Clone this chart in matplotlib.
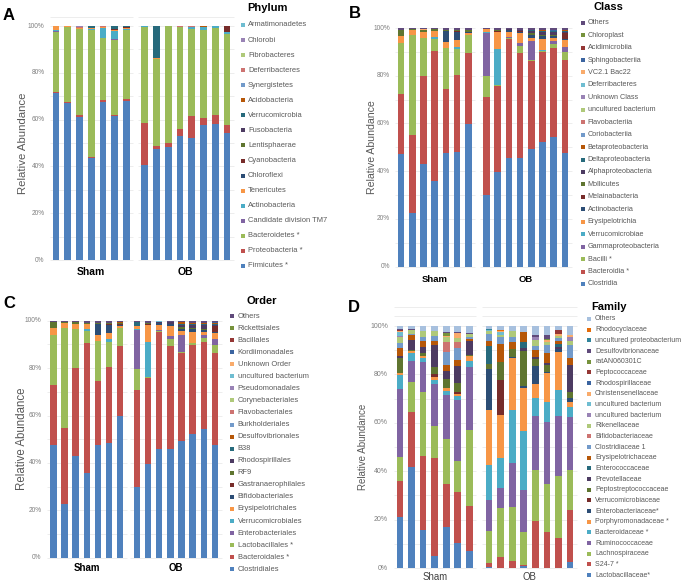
import numpy as np
import matplotlib
matplotlib.use('Agg')
import matplotlib.pyplot as plt
from matplotlib.patches import Rectangle

plt.rcParams['font.family'] = ['Liberation Sans', 'DejaVu Sans']

W, H = 685, 584

# Excel-like series palette, in stacking order (bottom -> top)
colors = ['#4F81BD', '#C0504D', '#9BBB59', '#8064A2', '#4BACC6', '#F79646',
          '#2C4D75', '#772C2A', '#5F7530', '#4D3B62', '#276A7C', '#B65708',
          '#729ACA', '#CD7371', '#AFC97A', '#9983B5', '#6FBDD1', '#F9AB6B',
          '#3B64A0', '#953735', '#76923C', '#604A7B', '#31859C', '#E46C0A',
          '#A7C0DE']

groups = ['Sham', 'OB']

# columns: Sham 1-7, OB 1-8 (percent)
phylum_names = ['Firmicutes *', 'Proteobacteria *', 'Bacteroidetes *', 'Candidate division TM7',
                'Actinobacteria', 'Tenericutes', 'Chloroflexi', 'Cyanobacteria', 'Lentisphaerae',
                'Fusobacteria', 'Verrucomicrobia', 'Acidobacteria', 'Synergistetes',
                'Deferribacteres', 'Fibrobacteres', 'Chlorobi', 'Armatimonadetes']
phylum_vals = [
    [71.5, 67.0, 61.5, 43.3, 67.5, 61.5, 68.0, 40.5, 47.5, 48.5, 52.8, 52.3, 57.5, 58.0, 54.3],
    [0.5, 0.5, 0.5, 0.5, 0.6, 0.6, 0.6, 18.3, 1.2, 1.5, 3.2, 9.4, 3.0, 4.0, 3.3],
    [25.5, 32.0, 37.0, 54.4, 26.6, 32.2, 29.6, 41.0, 37.0, 50.0, 43.6, 37.3, 38.0, 37.3, 38.9],
    [0.4, 0, 0, 0, 0, 0.3, 0.3, 0, 0, 0, 0, 0, 0, 0, 0],
    [0.2, 0, 0, 0.4, 4.5, 3.3, 0.3, 0.3, 0, 0, 0, 0.5, 1.0, 0.5, 1.0],
    [1.9, 0.5, 0.3, 0.3, 0.3, 0.3, 0.2, 0, 0.4, 0, 0, 0, 0, 0, 0],
    [0, 0, 0, 0, 0, 0, 0.2, 0, 0, 0, 0, 0, 0, 0, 0],
    [0, 0, 0, 0, 0, 0.5, 0.4, 0, 0, 0, 0, 0, 0.2, 0, 2.5],
    [0, 0, 0, 0, 0, 0, 0, 0, 0, 0, 0, 0, 0, 0, 0],
    [0, 0, 0, 0, 0, 0, 0, 0, 0, 0, 0, 0, 0, 0, 0],
    [0, 0, 0, 0.8, 0, 1.4, 0.2, 0, 13.8, 0, 0, 0, 0, 0, 0],
    [0, 0, 0, 0, 0, 0, 0.2, 0, 0, 0, 0, 0.3, 0.3, 0, 0],
    [0, 0, 0, 0, 0, 0, 0, 0, 0, 0, 0, 0, 0, 0.2, 0],
    [0, 0, 0.5, 0, 0.4, 0, 0, 0, 0, 0, 0.4, 0.3, 0, 0, 0],
    [0, 0, 0, 0, 0, 0, 0, 0, 0, 0, 0, 0, 0, 0, 0],
    [0, 0, 0.5, 0, 0, 0, 0, 0, 0, 0, 0, 0, 0, 0, 0],
    [0, 0, 0, 0, 0, 0, 0, 0, 0, 0, 0, 0, 0, 0, 0],
]

class_names = ['Clostridia', 'Bacteroidia *', 'Bacilli *', 'Gammaproteobacteria', 'Verrucomicrobiae',
               'Erysipelotrichia', 'Actinobacteria', 'Melainabacteria', 'Mollicutes',
               'Alphaproteobacteria', 'Deltaproteobacteria', 'Betaproteobacteria', 'Coriobacteriia',
               'Flavobacteriia', 'uncultured bacterium', 'Unknown Class', 'Deferribacteres',
               'VC2.1 Bac22', 'Sphingobacteriia', 'Acidimicrobiia', 'Chloroplast', 'Others']
class_vals = [
    [47.1, 22.5, 43.3, 36.0, 47.8, 48.2, 59.8, 30.0, 39.5, 45.8, 45.7, 49.3, 52.3, 54.5, 47.8],
    [25.2, 32.5, 36.7, 54.3, 26.5, 32.1, 29.8, 41.3, 36.3, 49.7, 43.8, 36.9, 37.5, 37.2, 38.9],
    [21.3, 42.0, 16.3, 5.2, 17.2, 10.7, 7.4, 8.7, 0.4, 0.4, 2.9, 0.5, 0.5, 1.6, 3.3],
    [0, 0, 0, 0, 0, 0, 0, 18.0, 0, 0.4, 1.2, 7.8, 0, 1.3, 2.3],
    [0, 0, 0, 0.8, 0, 1.2, 0, 0.4, 14.8, 0, 0, 0, 0.3, 0, 0],
    [3.0, 2.0, 2.5, 2.5, 2.5, 2.8, 0.8, 1.2, 7.2, 2.2, 4.2, 1.5, 4.6, 1.2, 2.7],
    [0, 0, 0, 0, 4.8, 3.5, 0.5, 0, 0, 0.8, 0.6, 1.2, 1.3, 1.0, 0.6],
    [0, 0, 0, 0, 0, 0.4, 0.3, 0, 0.4, 0, 0.3, 0, 0, 0, 2.4],
    [2.5, 0.5, 0.6, 0.6, 0.4, 0.3, 0.5, 0, 0.6, 0, 0, 0.5, 0.5, 0.4, 0],
    [0, 0, 0, 0, 0, 0, 0, 0, 0, 0.4, 0.6, 1.0, 1.2, 1.5, 0.5],
    [0, 0, 0, 0, 0, 0, 0.3, 0, 0, 0, 0, 0.6, 0.6, 0.4, 0.4],
    [0, 0, 0, 0, 0, 0, 0, 0, 0, 0, 0, 0, 0.3, 0, 0.3],
    [0, 0, 0, 0, 0, 0, 0, 0, 0, 0, 0, 0, 0, 0, 0],
    [0, 0, 0, 0, 0, 0, 0, 0, 0, 0, 0, 0, 0, 0, 0],
    [0, 0, 0, 0, 0, 0, 0, 0, 0, 0, 0, 0, 0, 0, 0],
    [0, 0, 0, 0, 0, 0, 0, 0, 0, 0, 0, 0, 0, 0, 0],
    [0, 0, 0, 0, 0, 0, 0, 0, 0, 0.2, 0, 0, 0, 0, 0],
    [0, 0, 0.3, 0, 0, 0, 0, 0, 0, 0, 0, 0, 0, 0, 0],
    [0, 0, 0, 0, 0, 0, 0, 0, 0, 0, 0, 0, 0, 0.3, 0.3],
    [0, 0, 0, 0, 0, 0, 0, 0, 0, 0, 0, 0, 0, 0, 0],
    [0, 0, 0, 0, 0, 0, 0, 0, 0, 0, 0, 0, 0, 0, 0],
    [0.8, 0.5, 0.6, 0.6, 0.8, 0.8, 0.7, 0.4, 0.8, 0.3, 0.7, 0.7, 0.8, 0.8, 0.7],
]

order_names = ['Clostridiales', 'Bacteroidales *', 'Lactobacillales *', 'Enterobacteriales',
               'Verrucomicrobiales', 'Erysipelotrichales', 'Bifidobacteriales',
               'Gastranaerophilales', 'RF9', 'Rhodospirillales', 'B38', 'Desulfovibrionales',
               'Burkholderiales', 'Flavobacteriales', 'Corynebacteriales', 'Pseudomonadales',
               'uncultured bacterium', 'Unknown Order', 'Kordiimonadales', 'Bacillales',
               'Rickettsiales', 'Others']
order_vals = [
    [47.3, 22.5, 43.0, 35.9, 47.5, 48.2, 59.7, 30.0, 39.5, 45.8, 45.7, 49.3, 52.3, 54.5, 47.8],
    [25.1, 32.1, 37.2, 54.5, 26.8, 32.2, 29.8, 41.3, 36.3, 49.7, 43.8, 36.9, 37.5, 37.2, 38.9],
    [21.3, 42.2, 16.1, 5.2, 16.8, 10.8, 7.3, 8.7, 0.4, 0.4, 2.9, 0.5, 0.5, 1.6, 3.3],
    [0, 0, 0, 0, 0, 0, 0, 16.5, 0, 0.4, 1.2, 7.0, 0, 1.3, 2.3],
    [0, 0, 0, 0.8, 0, 1.0, 0, 0.4, 14.8, 0, 0, 0, 0.3, 0, 0],
    [2.8, 2.2, 2.4, 2.2, 2.7, 2.6, 0.8, 1.5, 7.2, 2.2, 4.2, 1.5, 4.6, 1.2, 2.7],
    [0, 0, 0, 0, 4.4, 3.4, 0.5, 0, 0, 0.8, 0.6, 1.2, 1.3, 1.0, 0.6],
    [0, 0, 0, 0, 0, 0.4, 0.3, 0, 0.4, 0, 0.3, 0, 0, 0, 2.4],
    [2.4, 0.5, 0.6, 0.6, 0.4, 0.3, 0.5, 0, 0.6, 0, 0, 0.5, 0.5, 0.4, 0],
    [0, 0, 0, 0, 0, 0, 0, 0, 0, 0.4, 0.6, 1.0, 1.2, 1.5, 0.5],
    [0, 0, 0, 0, 0, 0, 0.2, 1.5, 0, 0, 0, 0.6, 0.4, 0.3, 0.4],
    [0, 0, 0.2, 0, 0.2, 0.3, 0.2, 0, 0, 0, 0, 0.5, 0.5, 0.5, 0.3],
    [0, 0, 0, 0, 0, 0, 0, 0, 0, 0, 0, 0, 0, 0, 0],
    [0, 0, 0, 0, 0, 0, 0, 0, 0, 0, 0, 0, 0, 0, 0],
    [0, 0, 0, 0, 0, 0, 0, 0, 0, 0, 0, 0, 0, 0, 0],
    [0, 0, 0, 0, 0, 0, 0, 0, 0, 0, 0, 0, 0, 0, 0],
    [0, 0, 0, 0, 0, 0, 0, 0, 0, 0.2, 0, 0, 0, 0, 0],
    [0, 0, 0, 0, 0, 0, 0, 0, 0, 0, 0, 0, 0, 0, 0],
    [0, 0, 0, 0, 0, 0, 0, 0, 0, 0, 0, 0, 0, 0.3, 0.3],
    [0, 0, 0, 0, 0, 0, 0, 0, 0, 0, 0, 0, 0, 0, 0],
    [0, 0, 0, 0, 0, 0, 0, 0, 0, 0, 0, 0, 0, 0, 0],
    [0.7, 0.5, 0.5, 0.8, 0.8, 0.8, 0.7, 0.6, 0.8, 0.3, 0.7, 0.7, 0.8, 0.8, 0.7],
]

family_names = ['Lactobacillaceae*', 'S24-7 *', 'Lachnospiraceae', 'Ruminococcaceae',
                'Bacteroidaceae *', 'Porphyromonadaceae *', 'Enterobacteriaceae*',
                'Verrucomicrobiaceae', 'Peptostreptococcaceae', 'Prevotellaceae',
                'Enterococcaceae', 'Erysipelotrichaceae', 'Clostridiaceae 1', 'Bifidobacteriaceae',
                'Rikenellaceae', 'uncultured bacterium', 'uncultured bacterium',
                'Christensenellaceae', 'Rhodospirillaceae', 'Peptococcaceae', 'ratAN060301C',
                'Desulfovibrionaceae', 'uncultured proteobacterium', 'Rhodocyclaceae', 'Others']
family_vals = [
    [21.0, 41.8, 15.7, 4.9, 16.8, 10.2, 6.9, 0.3, 0.2, 0, 0.8, 0, 0, 0, 2.6],
    [15.0, 22.8, 30.5, 40.7, 18.1, 20.9, 18.9, 1.6, 4.5, 2.8, 0.3, 19.4, 15.0, 12.2, 21.4],
    [10.0, 12.4, 26.5, 12.9, 18.2, 12.9, 31.2, 13.5, 19.9, 22.4, 13.9, 21.0, 19.6, 25.7, 16.4],
    [28.0, 8.7, 12.4, 17.7, 18.5, 24.9, 26.0, 12.6, 8.3, 18.0, 17.2, 22.5, 25.6, 25.1, 22.2],
    [6.0, 3.0, 1.6, 1.4, 1.4, 1.7, 2.4, 14.5, 12.7, 22.0, 24.4, 7.3, 8.3, 10.6, 4.1],
    [0.8, 1.0, 0.8, 1.4, 1.2, 0.7, 2.0, 23.1, 17.5, 21.4, 17.7, 5.9, 12.0, 15.8, 1.8],
    [0, 0, 0, 0, 0, 0, 0, 16.7, 0, 0.6, 1.1, 7.4, 0.5, 1.2, 1.7],
    [0, 0, 0, 1.2, 0, 0.9, 0, 0, 14.4, 0, 0, 0, 0, 0, 0],
    [6.2, 0.5, 1.3, 2.8, 3.7, 3.6, 0.7, 2.1, 7.6, 3.1, 14.1, 2.7, 2.9, 0, 2.7],
    [0.8, 4.0, 2.5, 9.0, 3.7, 6.8, 5.5, 0, 0, 0, 1.5, 1.1, 1.0, 0.8, 11.0],
    [0, 0, 0, 0, 0, 0, 0, 7.6, 0, 0, 2.5, 0, 0, 1.0, 0],
    [3.4, 2.0, 2.7, 2.0, 2.4, 2.4, 1.0, 2.0, 7.6, 3.1, 4.0, 2.8, 3.8, 1.4, 2.8],
    [1.8, 0.5, 1.4, 1.8, 5.2, 4.9, 0.8, 2.8, 2.7, 1.8, 0, 1.4, 3.5, 1.3, 5.5],
    [0, 0, 0, 0, 4.1, 2.7, 0, 0, 0, 0, 0, 0, 0, 0, 0],
    [2.5, 1.8, 2.7, 2.2, 2.1, 1.5, 1.1, 1.2, 0.8, 2.7, 0, 2.7, 1.3, 0.8, 1.4],
    [0.4, 0, 0, 0, 0, 0, 0, 0, 0, 0, 0, 1.0, 0, 0, 2.0],
    [2.0, 0, 0, 0, 0, 0, 0, 0.4, 1.3, 0, 0, 0, 0, 0, 0],
    [0.3, 0, 0, 0, 0.5, 2.0, 0, 0, 0.5, 0, 0, 0, 0.8, 0.8, 0.6],
    [0, 0, 0, 0, 0, 0, 0, 0, 0, 0, 0, 0, 0, 0, 0],
    [0.3, 0, 0, 0, 0, 0, 0, 0, 0, 0, 0, 0, 0, 1.5, 0],
    [0, 0, 0, 0, 1.2, 0, 0, 0, 0, 0, 0, 0, 0.5, 0, 0],
    [0.4, 0.4, 0, 0, 0.5, 0.6, 0.5, 0, 0, 0, 0, 0.8, 1.5, 0, 0],
    [0, 0, 0, 0, 0, 0, 0, 0.5, 0, 0, 0, 0, 0, 0, 0],
    [0, 0, 0, 0, 0, 0, 0, 0, 0.5, 0, 0, 0, 0, 0, 0],
    [1.3, 1.1, 1.9, 2.0, 2.4, 2.4, 3.0, 1.3, 1.5, 2.0, 2.5, 3.9, 3.7, 1.8, 3.8],
]

fig = plt.figure(figsize=(W / 100, H / 100), dpi=100)


def fx(px):
    return px / W


def fy(py):
    return 1 - py / H


def panel(names, vals, letter, title, g):
    vals = np.array(vals, dtype=float)
    pct = vals / vals.sum(axis=0) * 100  # 100% stacked
    xs = np.array(list(range(7)) + [6 + g['gap'] + i for i in range(8)])
    last = xs[-1]
    ppu = (g['cx1'] - g['cx0']) / last
    left = g['cx0'] - 0.8 * ppu
    width = (last + 1.6) * ppu
    ax = fig.add_axes([fx(left), fy(g['y0']), width / W, (g['y0'] - g['y100']) / H])
    ax.set_xlim(-0.8, last + 0.8)
    ax.set_ylim(0, 100)
    ax.axis('off')

    for lv in list(range(0, 101, 10)) + g['extra']:
        ax.hlines(lv, -0.55, 6.6, color='#EAEAEA', lw=0.6, zorder=0, clip_on=False)
        ax.hlines(lv, 6 + g['gap'] - 0.6, last + 0.6, color='#EAEAEA', lw=0.6, zorder=0,
                  clip_on=False)

    bottom = np.zeros(len(xs))
    for i in range(len(names)):
        ax.bar(xs, pct[i], bottom=bottom, width=0.58, color=colors[i], lw=0, zorder=2)
        bottom += pct[i]

    # y tick labels and axis title
    for v in range(0, 101, 20):
        fig.text(fx(g['tick_x']), fy(g['y0'] - v / 100 * (g['y0'] - g['y100'])), f'{v}%',
                 ha='right', va='center', fontsize=g['tick_fs'], color='#7F7F7F')
    fig.text(fx(g['ylab_x']), fy((g['y0'] + g['y100']) / 2), 'Relative Abundance',
             rotation=90, ha='center', va='center', fontsize=g['ylab_fs'], color='#595959')

    # group labels
    gy = fy(g['grp_y'])
    for lab, sel in zip(groups, [xs[:7], xs[7:]]):
        xc = left + (sel.mean() + 0.8) * ppu
        fig.text(fx(xc), gy, lab, ha='center', va='center', fontsize=g['grp_fs'],
                 fontweight=g['grp_w'], color=g['grp_c'])

    fig.text(fx(g['letter'][0]), fy(g['letter'][1]), letter, ha='left', va='center',
             fontsize=12, fontweight='bold')
    fig.text(fx(g['title'][0]), fy(g['title'][1]), title, ha='center', va='center',
             fontsize=8, fontweight='bold')

    # legend, top entry = top of the stack
    s = 4.0
    for k, i in enumerate(range(len(names) - 1, -1, -1)):
        yy = g['leg_y0'] + k * g['leg_step']
        fig.add_artist(Rectangle((fx(g['leg_mx'] - s / 2), fy(yy + s / 2)), s / W, s / H,
                                 transform=fig.transFigure, color=colors[i], lw=0))
        fig.text(fx(g['leg_tx']), fy(yy), names[i], ha='left', va='center',
                 fontsize=g['leg_fs'], color='#595959')
    return ax


panel(phylum_names, phylum_vals, 'A', 'Phylum',
      dict(cx0=56, cx1=227, y0=260, y100=26, gap=1.57, tick_x=44.5, tick_fs=4.7, ylab_x=23,
           ylab_fs=8.2, grp_y=272, grp_fs=7.5, grp_w='bold', grp_c='black', letter=(3, 15),
           title=(268, 8), leg_mx=243, leg_tx=248, leg_y0=25, leg_step=15.06, leg_fs=5.4,
           extra=[104]))

panel(class_names, class_vals, 'B', 'Class',
      dict(cx0=401, cx1=565, y0=266.7, y100=28, gap=1.59, tick_x=390, tick_fs=4.7, ylab_x=372,
           ylab_fs=7.6, grp_y=279, grp_fs=6.8, grp_w='bold', grp_c='black', letter=(349, 14),
           title=(608, 7), leg_mx=583, leg_tx=587.5, leg_y0=22.7, leg_step=12.44, leg_fs=5.2,
           extra=[]))

panel(order_names, order_vals, 'C', 'Order',
      dict(cx0=53.3, cx1=215, y0=557.7, y100=320.7, gap=1.49, tick_x=41.7, tick_fs=4.7,
           ylab_x=21.7, ylab_fs=8.3, grp_y=568, grp_fs=7, grp_w='bold', grp_c='black',
           letter=(3, 304), title=(262, 301), leg_mx=232, leg_tx=237.5, leg_y0=316,
           leg_step=12.06, leg_fs=5.4, extra=[]))

panel(family_names, family_vals, 'D', 'Family',
      dict(cx0=400, cx1=570, y0=568, y100=326, gap=1.71, tick_x=388, tick_fs=5.0, ylab_x=363.3,
           ylab_fs=7, grp_y=577, grp_fs=6.9, grp_w='normal', grp_c='#404040',
           letter=(348, 307), title=(609, 306.7), leg_mx=589.3, leg_tx=595, leg_y0=319,
           leg_step=10.67, leg_fs=5.0, extra=[104, 108]))

fig.savefig('out.png', dpi=100)
